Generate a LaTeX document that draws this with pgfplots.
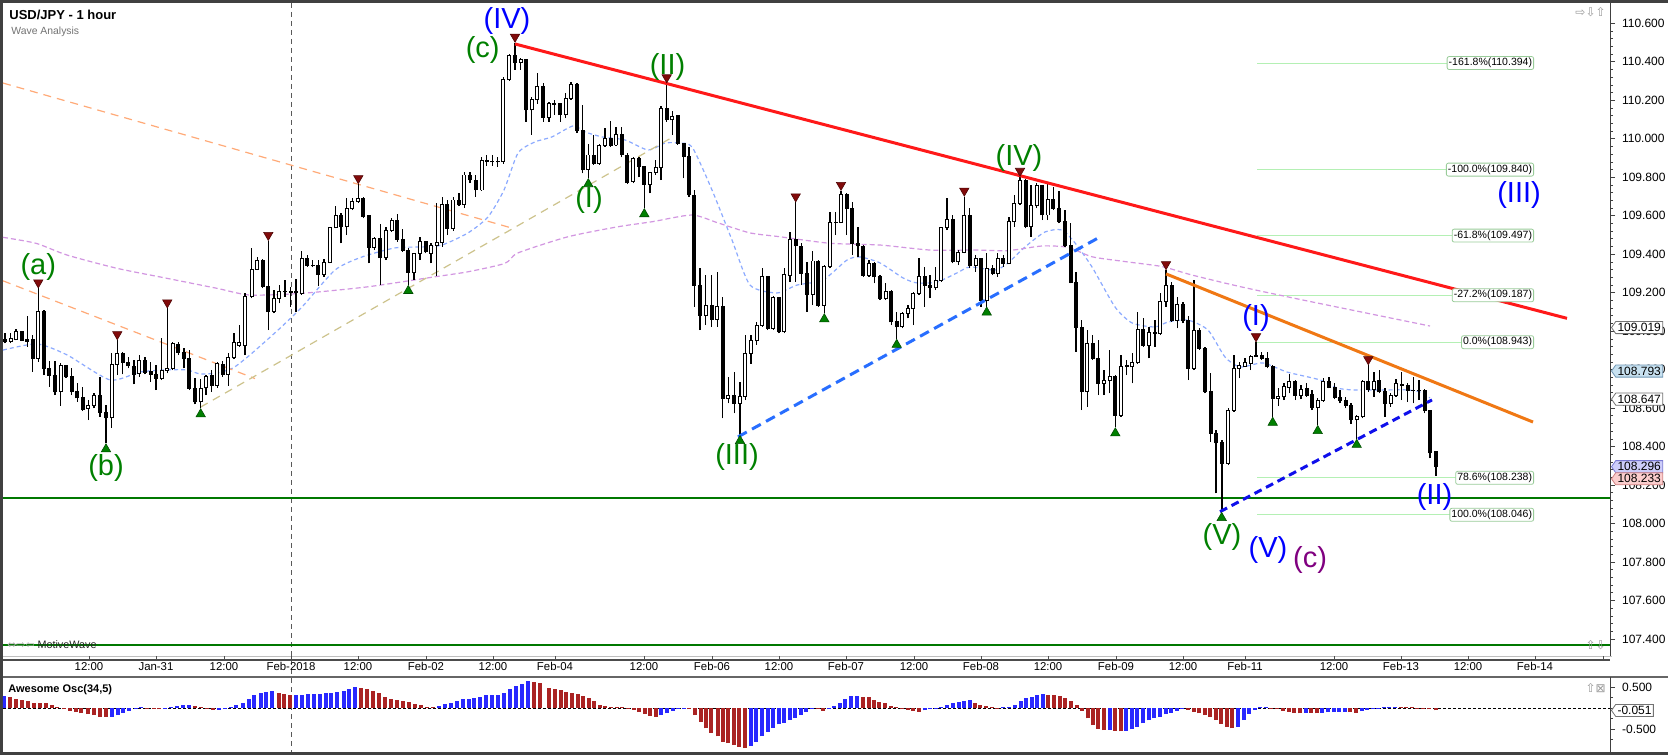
\documentclass[border=0pt]{standalone}
\usepackage{pgfplots}
\pgfplotsset{compat=1.18}
\usepackage{pgfplotstable}
\usepackage{fontspec}
\setmainfont{Liberation Sans}
\newfontfamily\dejavu{DejaVu Sans}
\usetikzlibrary{shapes.symbols}

\newcommand\fs[1]{\fontsize{#1pt}{#1pt}\selectfont}

\definecolor{wgreen}{RGB}{0,128,0}
\definecolor{wblue}{RGB}{0,0,255}
\definecolor{wpurple}{RGB}{128,0,128}
\definecolor{redline}{RGB}{255,25,25}
\definecolor{orline}{RGB}{240,120,20}
\definecolor{bldash}{RGB}{40,110,255}
\definecolor{dbdash}{RGB}{15,15,235}
\definecolor{hgreen}{RGB}{0,120,0}
\definecolor{fibgreen}{RGB}{180,240,180}
\definecolor{maone}{RGB}{140,170,255}
\definecolor{matwo}{RGB}{210,150,225}
\definecolor{salmon}{RGB}{255,170,120}
\definecolor{tanline}{RGB}{205,195,140}
\definecolor{trired}{RGB}{130,10,10}
\definecolor{trigreen}{RGB}{0,128,0}
\definecolor{aored}{RGB}{170,35,35}
\definecolor{aoblue}{RGB}{40,40,255}
\definecolor{frame}{RGB}{64,64,64}

% hourly candles: x position, open, high, low, close
\pgfplotstableread{
x o h l c
5.0 108.959 108.989 108.937 108.949
10.7 108.949 108.989 108.937 108.963
16.0 108.959 109.011 108.952 109.001
21.7 109.001 109.001 108.949 108.954
27.3 108.959 109.079 108.919 108.949
32.7 108.959 108.980 108.789 108.859
38.3 108.859 109.223 108.841 109.101
44.0 109.101 109.110 108.772 108.807
49.3 108.807 108.845 108.711 108.769
55.0 108.769 108.845 108.668 108.685
60.7 108.689 108.833 108.613 108.824
66.0 108.821 108.824 108.758 108.763
71.7 108.763 108.807 108.668 108.685
77.3 108.685 108.729 108.633 108.654
82.7 108.654 108.711 108.585 108.595
88.3 108.599 108.641 108.538 108.616
94.0 108.616 108.677 108.599 108.668
100.0 108.668 108.763 108.555 108.578
106.0 108.578 108.616 108.417 108.550
111.7 108.550 108.885 108.498 108.828
117.3 108.828 108.954 108.772 108.883
122.7 108.883 108.890 108.776 108.838
128.3 108.838 108.867 108.807 108.821
134.0 108.815 108.850 108.724 108.777
139.3 108.781 108.876 108.763 108.850
145.0 108.850 108.867 108.776 108.786
150.7 108.789 108.841 108.737 108.776
156.0 108.776 108.824 108.694 108.755
161.7 108.755 108.963 108.746 108.798
167.3 108.796 109.119 108.781 108.807
172.7 108.807 108.945 108.798 108.937
178.3 108.932 108.945 108.876 108.890
184.0 108.890 108.911 108.807 108.859
189.3 108.859 108.902 108.694 108.703
195.0 108.703 108.755 108.620 108.633
200.7 108.633 108.751 108.599 108.703
206.0 108.706 108.772 108.668 108.763
211.7 108.769 108.798 108.685 108.717
217.3 108.717 108.841 108.706 108.833
222.7 108.828 108.845 108.763 108.776
228.3 108.776 108.885 108.717 108.862
234.0 108.862 108.989 108.855 108.942
239.3 108.928 109.032 108.919 108.942
245.0 108.928 109.197 108.876 109.179
251.7 109.180 109.431 109.171 109.322
257.3 109.322 109.384 109.318 109.370
262.7 109.370 109.377 109.223 109.232
268.3 109.232 109.470 109.006 109.102
274.0 109.102 109.214 109.093 109.171
279.3 109.171 109.240 109.145 109.206
285.0 109.204 109.266 109.180 109.206
290.7 109.206 109.232 109.128 109.200
296.0 109.200 109.270 109.102 109.204
301.7 109.197 109.419 109.188 109.379
307.3 109.379 109.396 109.336 109.344
312.7 109.344 109.370 109.332 109.340
318.3 109.340 109.370 109.235 109.297
324.0 109.297 109.374 109.284 109.356
330.0 109.356 109.543 109.353 109.540
335.7 109.540 109.651 109.535 109.602
341.0 109.602 109.613 109.457 109.544
346.7 109.544 109.691 109.500 109.637
352.3 109.637 109.691 109.630 109.674
358.3 109.674 109.765 109.668 109.689
363.3 109.691 109.696 109.587 109.596
369.0 109.599 109.604 109.353 109.436
374.3 109.436 109.492 109.422 109.483
380.3 109.483 109.556 109.240 109.382
386.0 109.382 109.543 109.370 109.526
391.7 109.526 109.587 109.518 109.575
397.3 109.575 109.609 109.466 109.478
402.7 109.478 109.530 109.414 109.422
408.3 109.422 109.431 109.240 109.304
414.0 109.304 109.408 109.266 109.405
420.0 109.405 109.488 109.370 109.464
425.7 109.464 109.469 109.405 109.412
431.0 109.405 109.457 109.353 109.448
436.7 109.448 109.668 109.287 109.460
442.3 109.460 109.700 109.440 109.661
447.3 109.661 109.680 109.500 109.535
453.3 109.535 109.700 109.520 109.682
459.0 109.682 109.720 109.650 109.661
464.3 109.661 109.830 109.640 109.812
470.0 109.812 109.830 109.770 109.786
475.7 109.786 109.810 109.700 109.734
481.7 109.734 109.905 109.730 109.885
486.7 109.885 109.915 109.860 109.882
492.3 109.882 109.915 109.860 109.880
497.7 109.880 109.905 109.855 109.881
503.3 109.881 110.320 109.870 110.310
509.3 110.310 110.441 110.300 110.431
515.0 110.431 110.500 110.358 110.396
520.7 110.396 110.419 110.358 110.410
526.0 110.410 110.413 110.089 110.150
531.7 110.150 110.219 110.020 110.202
537.3 110.202 110.341 110.183 110.271
543.3 110.271 110.292 110.089 110.112
549.0 110.112 110.193 110.089 110.185
554.3 110.185 110.202 110.124 110.180
560.3 110.185 110.188 110.089 110.124
565.7 110.124 110.237 110.107 110.211
571.0 110.211 110.297 110.202 110.280
577.0 110.280 110.292 110.029 110.043
582.7 110.043 110.176 109.821 109.838
588.3 109.842 109.973 109.795 109.916
593.7 109.916 110.020 109.864 109.873
599.3 109.873 109.973 109.864 109.963
605.0 109.963 110.055 109.959 110.003
610.7 110.003 110.093 109.959 109.963
616.0 109.968 110.063 109.963 110.024
621.7 110.024 110.063 109.904 109.916
627.3 109.916 109.925 109.765 109.772
633.3 109.777 109.907 109.769 109.899
639.0 109.899 109.904 109.800 109.855
644.3 109.855 109.859 109.639 109.765
650.0 109.765 109.824 109.717 109.824
655.7 109.824 109.890 109.812 109.850
661.0 109.850 110.171 109.786 110.159
666.7 110.159 110.289 110.089 110.098
672.3 110.098 110.147 110.020 110.115
677.7 110.119 110.124 109.968 109.977
683.7 109.977 109.977 109.795 109.907
689.0 109.907 109.959 109.699 109.708
694.3 109.708 109.734 109.126 109.240
700.0 109.240 109.327 109.006 109.084
705.7 109.084 109.292 109.032 109.136
711.7 109.136 109.292 109.024 109.062
717.3 109.062 109.310 109.024 109.128
722.7 109.128 109.180 108.547 108.651
728.3 108.651 108.764 108.625 108.668
734.3 108.668 108.790 108.573 108.625
740.0 108.625 108.738 108.460 108.663
745.3 108.663 108.980 108.642 108.885
751.0 108.885 108.980 108.830 108.950
756.7 108.950 109.049 108.930 109.032
762.3 109.032 109.327 109.024 109.283
767.7 109.283 109.287 109.006 109.015
773.3 109.015 109.185 109.006 109.176
779.0 109.176 109.179 108.989 108.998
784.3 108.998 109.327 108.989 109.296
790.0 109.292 109.517 109.257 109.479
795.7 109.479 109.670 109.257 109.443
801.3 109.443 109.457 109.240 109.301
807.0 109.301 109.361 109.101 109.192
812.7 109.192 109.417 109.136 109.365
818.3 109.365 109.370 109.128 109.136
824.3 109.136 109.344 109.093 109.335
830.0 109.335 109.621 109.327 109.566
835.7 109.566 109.621 109.500 109.566
841.0 109.566 109.730 109.561 109.712
846.7 109.712 109.717 109.500 109.639
852.3 109.639 109.673 109.396 109.457
858.0 109.457 109.543 109.387 109.443
863.3 109.443 109.448 109.283 109.292
869.0 109.292 109.370 109.283 109.353
874.3 109.353 109.361 109.249 109.283
880.0 109.283 109.292 109.162 109.171
885.7 109.171 109.249 109.162 109.206
891.3 109.206 109.214 109.032 109.049
896.7 109.049 109.101 108.960 109.023
902.3 109.023 109.101 109.015 109.093
908.0 109.093 109.136 109.067 109.119
913.3 109.119 109.206 109.032 109.197
919.0 109.197 109.379 109.188 109.283
924.7 109.283 109.335 109.128 109.240
930.0 109.240 109.292 109.171 109.226
935.7 109.226 109.335 109.214 109.266
941.3 109.266 109.543 109.257 109.538
947.0 109.538 109.691 109.526 109.583
952.7 109.583 109.604 109.353 109.361
958.3 109.361 109.422 109.344 109.410
964.3 109.410 109.700 109.405 109.604
969.7 109.604 109.639 109.327 109.344
975.7 109.344 109.396 109.309 109.379
981.0 109.379 109.382 109.128 109.162
986.7 109.162 109.405 109.128 109.327
992.7 109.327 109.344 109.292 109.301
997.7 109.301 109.405 109.283 109.379
1003.3 109.379 109.396 109.335 109.353
1009.0 109.353 109.595 109.349 109.569
1014.3 109.569 109.708 109.543 109.665
1020.0 109.665 109.803 109.656 109.783
1025.7 109.783 109.790 109.535 109.543
1031.0 109.543 109.760 109.491 109.651
1036.7 109.651 109.769 109.639 109.755
1042.3 109.755 109.760 109.578 109.604
1047.7 109.604 109.765 109.578 109.686
1053.3 109.686 109.751 109.630 109.639
1059.0 109.639 109.730 109.561 109.569
1065.0 109.569 109.630 109.439 109.448
1070.7 109.448 109.561 109.249 109.252
1076.0 109.252 109.309 108.894 109.020
1081.7 109.020 109.058 108.590 108.686
1087.3 108.686 109.006 108.608 108.937
1092.7 108.937 108.980 108.850 108.859
1098.3 108.859 108.954 108.668 108.729
1104.0 108.729 108.798 108.668 108.746
1109.7 108.746 108.902 108.677 108.764
1115.3 108.764 108.772 108.500 108.564
1121.0 108.564 108.876 108.556 108.819
1126.7 108.819 108.850 108.772 108.822
1132.3 108.815 108.885 108.729 108.836
1137.7 108.836 109.101 108.829 109.010
1143.3 109.010 109.067 108.920 108.928
1149.0 108.928 109.023 108.859 108.993
1155.0 108.993 109.058 108.920 108.989
1160.3 108.989 109.197 108.980 109.154
1166.0 109.154 109.318 109.128 109.240
1171.7 109.240 109.257 109.049 109.058
1177.3 109.058 109.180 109.015 109.141
1183.0 109.141 109.154 109.041 109.055
1188.3 109.055 109.080 108.746 108.807
1194.0 108.807 109.266 108.798 109.006
1199.3 109.006 109.015 108.902 108.911
1205.0 108.911 108.920 108.677 108.686
1210.7 108.686 108.781 108.426 108.469
1216.0 108.469 108.486 108.157 108.420
1222.0 108.420 108.434 108.060 108.313
1228.3 108.313 108.599 108.304 108.590
1234.0 108.590 108.876 108.581 108.807
1239.3 108.807 108.841 108.755 108.824
1245.0 108.819 108.859 108.815 108.836
1250.7 108.833 108.876 108.798 108.871
1256.0 108.871 108.943 108.867 108.876
1261.7 108.876 108.893 108.850 108.859
1267.3 108.859 108.893 108.807 108.815
1272.7 108.815 108.824 108.555 108.651
1278.3 108.651 108.703 108.611 108.663
1284.0 108.659 108.729 108.642 108.711
1289.3 108.708 108.777 108.677 108.737
1295.3 108.737 108.746 108.642 108.668
1301.0 108.668 108.720 108.646 108.698
1306.7 108.703 108.729 108.659 108.668
1312.0 108.672 108.694 108.590 108.604
1317.7 108.604 108.651 108.512 108.639
1323.3 108.639 108.755 108.634 108.737
1329.0 108.737 108.763 108.703 108.708
1334.7 108.708 108.729 108.646 108.656
1340.0 108.656 108.694 108.625 108.642
1345.7 108.642 108.659 108.599 108.616
1351.0 108.616 108.625 108.517 108.542
1356.7 108.542 108.564 108.440 108.555
1362.7 108.555 108.746 108.547 108.737
1368.3 108.737 108.824 108.685 108.698
1374.0 108.698 108.789 108.659 108.737
1379.3 108.746 108.798 108.677 108.685
1385.0 108.685 108.703 108.555 108.625
1390.7 108.625 108.677 108.607 108.668
1396.0 108.668 108.750 108.659 108.729
1401.7 108.724 108.789 108.642 108.720
1407.7 108.720 108.729 108.633 108.691
1413.3 108.694 108.763 108.625 108.694
1419.0 108.694 108.746 108.642 108.691
1424.7 108.694 108.698 108.573 108.587
1430.0 108.587 108.590 108.339 108.368
1436.0 108.374 108.379 108.248 108.296
}\candles

% Awesome Oscillator bars: x, value, blue(1)/red(0)
\pgfplotstableread{
x v b
3.6 0.29 1
10 0.26 0
16 0.22 0
22 0.20 0
28 0.18 0
34 0.13 0
40 0.13 0
46 0.13 0
52 0.07 0
57 0.04 0
64 -0.02 0
70 -0.06 0
76 -0.09 0
81 -0.12 0
88 -0.14 0
94 -0.16 0
100 -0.20 0
106 -0.20 0
112 -0.20 1
118 -0.16 1
123 -0.10 1
129 -0.06 1
136 -0.02 1
141 0.02 1
147 0.01 0
154 -0.01 0
159 -0.02 0
165 0.005 1
171 0.03 1
177 0.06 1
183 0.07 1
189 0.09 1
195 0.06 0
201 0.02 0
207 -0.02 0
213 -0.04 0
219 -0.04 1
225 -0.01 1
231 0.04 1
236 0.07 1
243 0.12 1
249 0.21 1
254 0.31 1
261 0.37 1
266 0.40 1
272 0.42 1
279 0.37 0
284 0.34 0
290 0.31 0
296 0.31 1
302 0.32 1
308 0.33 1
314 0.33 1
320 0.34 1
326 0.36 1
331 0.37 1
337 0.39 1
344 0.41 1
349 0.45 1
355 0.50 1
361 0.48 0
367 0.46 0
373 0.41 0
379 0.36 0
385 0.26 0
391 0.23 0
397 0.20 0
403 0.18 0
409 0.15 0
415 0.10 0
421 0.08 0
427 0.04 0
433 0.02 0
439 0.06 1
445 0.10 1
451 0.13 1
457 0.18 1
463 0.22 1
469 0.23 1
474 0.24 1
480 0.28 1
486 0.31 1
492 0.32 1
498 0.32 1
504 0.36 1
510 0.47 1
516 0.53 1
522 0.58 1
528 0.65 1
534 0.63 0
540 0.60 0
549 0.49 0
555 0.45 0
560.7 0.44 0
566 0.39 0
572 0.36 0
577.5 0.34 0
583 0.29 0
589 0.24 0
594 0.18 0
600 0.08 0
605 0.06 0
611 0.04 0
617 0.03 0
622 0.02 0
628 -0.005 0
633.6 -0.04 0
639 -0.09 0
644.6 -0.13 0
650 -0.18 0
656 -0.20 0
661 -0.17 1
667 -0.12 1
673 -0.06 1
678 -0.02 1
684 -0.01 1
689 -0.02 0
695 -0.16 0
701 -0.32 0
706 -0.48 0
711 -0.58 0
717.5 -0.67 0
723 -0.79 0
728 -0.83 0
734 -0.87 0
739 -0.91 0
745 -0.95 0
751 -0.90 1
756 -0.79 1
762 -0.67 1
767.5 -0.56 1
773 -0.46 1
778.6 -0.38 1
784 -0.34 1
790 -0.28 1
795 -0.22 1
801 -0.16 1
806 -0.08 1
812 -0.02 1
818 -0.02 0
823 -0.06 0
828.6 -0.02 1
834 0.06 1
840 0.13 1
845 0.22 1
851 0.29 1
857 0.30 1
862.5 0.28 0
868.6 0.26 0
874 0.20 0
879 0.16 0
885 0.12 0
891 0.06 0
896 0.02 0
902 -0.02 0
908 -0.04 0
913 -0.06 0
919 -0.08 0
925 -0.05 1
930 -0.02 1
936 0.005 1
941 0.04 1
947 0.08 1
952.5 0.12 1
958.6 0.16 1
964 0.18 1
969.6 0.19 1
975 0.13 0
980 0.09 0
986 0.06 0
992 0.02 0
997 -0.005 0
1003 0.02 1
1009 0.03 1
1015 0.08 1
1021 0.18 1
1026 0.24 1
1032 0.28 1
1037 0.32 1
1043 0.33 1
1048 0.32 0
1054 0.31 0
1060 0.29 0
1065 0.24 0
1071 0.18 0
1077 0.08 0
1082 -0.06 0
1088 -0.24 0
1093 -0.40 0
1098 -0.49 0
1104 -0.52 0
1110 -0.51 1
1115 -0.53 0
1121 -0.55 0
1126 -0.53 1
1132 -0.50 1
1137 -0.44 1
1143 -0.36 1
1149 -0.29 1
1154 -0.24 1
1160 -0.20 1
1166 -0.14 1
1171 -0.10 1
1177 -0.06 1
1182 -0.02 1
1188 -0.04 0
1194 -0.08 0
1199 -0.12 0
1205 -0.16 0
1210 -0.20 0
1216 -0.28 0
1221 -0.37 0
1227 -0.44 0
1232 -0.48 0
1238 -0.44 1
1244 -0.28 1
1249 -0.13 1
1255 -0.04 1
1260 0.02 1
1266 0.025 1
1271 -0.003 0
1277 -0.02 0
1283 -0.06 0
1289 -0.08 0
1294 -0.10 0
1300 -0.12 0
1306 -0.10 1
1311 -0.11 0
1317 -0.12 0
1322 -0.10 1
1328 -0.09 1
1334 -0.09 1
1339 -0.085 1
1345 -0.08 1
1350 -0.09 0
1356 -0.10 0
1362 -0.07 1
1367 -0.04 1
1373 -0.02 1
1378 0.01 1
1384 0.02 1
1389 0.03 1
1395 0.04 1
1401 0.035 0
1406 0.025 0
1412 0.02 0
1417 0.015 0
1423 0.01 0
1429 -0.02 0
1436 -0.05 0
}\osc

\pgfplotsset{
  candle/.style={draw=none, mark=none, forget plot,
    error bars/y dir=plus, error bars/y explicit, error bars/error mark=none},
}

\begin{document}
\begin{tikzpicture}
\useasboundingbox (0,0) rectangle (834pt,377.5pt);
\fill[white] (0,0) rectangle (834pt,377.5pt);
\begin{scope}[shift={(0pt,377.5pt)}, x=0.5pt, y=-0.5pt]
  \fill[frame] (0,0) rectangle (1668,3);
  \fill[frame] (0,0) rectangle (3,755);
  \fill[frame] (0,752) rectangle (1668,755);
  \draw[black!25, line width=0.5pt] (3,656) -- (1612,656);
  \draw[black!60, line width=1pt] (3,677) -- (1668,677);
  \draw[black!65, dash pattern=on 2.5pt off 2pt, line width=0.5pt] (291,3) -- (291,752);
\end{scope}

% ---------------- price panel ----------------
\begin{axis}[
  at={(1.5pt,49.5pt)}, anchor=south west,
  scale only axis, width=803.5pt, height=326.5pt,
  xmin=3, xmax=1610, ymin=107.312, ymax=110.706,
  axis x line=none, axis y line*=right,
  y axis line style={-, draw=black!75, line width=0.5pt},
  ytick={107.4,107.6,107.8,108,108.2,108.4,108.6,108.8,109,109.2,109.4,109.6,109.8,110,110.2,110.4,110.6},
  yticklabels={107.400,107.600,107.800,108.000,108.200,108.400,108.600,108.800,109.000,109.200,109.400,109.600,109.800,110.000,110.200,110.400,110.600},
  minor y tick num=4,
  tick align=outside, major tick length=2.5pt, minor tick length=1.5pt,
  tick style={draw=black!75, line width=0.4pt},
  yticklabel style={font=\fs{6}, anchor=west},
  clip mode=individual,
]
% fibonacci levels
\addplot[fibgreen, line width=0.5pt, forget plot] coordinates {(1257,110.394) (1534,110.394)};
\addplot[fibgreen, line width=0.5pt, forget plot] coordinates {(1257,109.840) (1534,109.840)};
\addplot[fibgreen, line width=0.5pt, forget plot] coordinates {(1257,109.497) (1534,109.497)};
\addplot[fibgreen, line width=0.5pt, forget plot] coordinates {(1257,109.187) (1534,109.187)};
\addplot[fibgreen, line width=0.5pt, forget plot] coordinates {(1257,108.943) (1534,108.943)};
\addplot[fibgreen, line width=0.5pt, forget plot] coordinates {(1257,108.238) (1534,108.238)};
\addplot[fibgreen, line width=0.5pt, forget plot] coordinates {(1257,108.046) (1534,108.046)};

% moving averages
\addplot[maone, line width=0.6pt, dash pattern=on 2pt off 1.5pt, smooth, tension=0.4] coordinates {
(3,108.902) (37,108.934) (67,108.877) (110,108.747) (140,108.788) (167,108.799) (187,108.799)
(200,108.778) (217,108.783) (233,108.809) (250,108.877) (278,109.006) (302,109.126) (335,109.318)
(362,109.386) (395,109.433) (422,109.438) (442,109.448) (468,109.511) (488,109.594) (504,109.734)
(518,109.926) (535,109.984) (552,110.010) (573,110.067) (585,110.036) (602,110.010) (625,109.994)
(648,109.942) (665,109.978) (678,109.978) (692,109.958) (712,109.734) (732,109.474) (750,109.240)
(777,109.199) (797,109.240) (823,109.266) (847,109.370) (860,109.386) (880,109.355) (903,109.277)
(917,109.251) (937,109.256) (957,109.303) (970,109.334) (995,109.318) (1008,109.355) (1025,109.438)
(1045,109.516) (1062,109.526) (1075,109.459) (1092,109.334) (1115,109.126) (1132,109.043) (1155,109.022)
(1168,109.048) (1188,109.058) (1208,109.006) (1225,108.866) (1240,108.814) (1263,108.835) (1287,108.788)
(1320,108.747) (1337,108.705) (1353,108.695) (1387,108.695) (1407,108.695) (1420,108.684) (1430,108.653)};
\addplot[matwo, line width=0.6pt, dash pattern=on 2.5pt off 1.5pt, smooth, tension=0.4] coordinates {
(3,109.488) (36,109.457) (67,109.396) (117,109.327) (167,109.275) (217,109.223) (250,109.188)
(302,109.197) (368,109.231) (435,109.283) (468,109.309) (505,109.353) (518,109.407) (568,109.491)
(618,109.543) (652,109.569) (692,109.604) (718,109.563) (750,109.511) (780,109.491) (830,109.457)
(880,109.448) (930,109.422) (975,109.422) (1008,109.419) (1042,109.443) (1068,109.436) (1092,109.387)
(1125,109.362) (1162,109.336) (1192,109.292) (1240,109.232) (1303,109.162) (1430,109.027)};

% thin dashed channel lines
\addplot[salmon, line width=0.6pt, dash pattern=on 4pt off 3pt] coordinates {(3,110.290) (512,109.536)};
\addplot[salmon, line width=0.6pt, dash pattern=on 4pt off 3pt] coordinates {(3,109.262) (255,108.754)};
\addplot[tanline, line width=0.6pt, dash pattern=on 4pt off 3pt] coordinates {(200.7,108.606) (673,110.010)};

% horizontal support lines
\addplot[hgreen, line width=1.4pt] coordinates {(3,108.133) (1610,108.133)};
\addplot[hgreen, line width=1.4pt] coordinates {(3,107.369) (1610,107.369)};

% candles: wicks, bodies, hollow up-bodies
\addplot[candle, error bars/error bar style={draw=black, line width=0.55pt}]
  table[x=x, y=l, y error expr=\thisrow{h}-\thisrow{l}] {\candles};
\addplot[candle, error bars/error bar style={draw=black, line width=2pt}]
  table[x=x, y expr={min(\thisrow{o},\thisrow{c})-0.0025}, y error expr={abs(\thisrow{c}-\thisrow{o})+0.005}] {\candles};
\addplot[candle, restrict expr to domain={\thisrow{c}-\thisrow{o}}{0.006:5}, error bars/error bar style={draw=white, line width=1pt}]
  table[x=x, y expr=\thisrow{o}+0.0025, y error expr=\thisrow{c}-\thisrow{o}-0.005] {\candles};

% trend lines
\addplot[redline, line width=1.5pt] coordinates {(515,110.493) (1567,109.067)};
\addplot[orline, line width=1.5pt] coordinates {(1166,109.298) (1533,108.528)};
\addplot[bldash, line width=1.5pt, dash pattern=on 5pt off 3pt] coordinates {(738,108.451) (1100,109.490)};
\addplot[dbdash, line width=1.5pt, dash pattern=on 4pt off 2.5pt] coordinates {(1220,108.062) (1432,108.643)};

% swing markers
\addplot[only marks, mark=triangle*, mark size=2.7pt,
  mark options={rotate=180, fill=trired, draw=trired!60!black, line width=0.3pt}] coordinates {
(38.3,109.253) (117.3,108.984) (167.3,109.149) (268.3,109.500) (358.3,109.795) (515.0,110.530)
(666.7,110.319) (795.7,109.700) (841.0,109.760) (964.3,109.730) (1020.0,109.833) (1166.0,109.348)
(1256.0,108.973) (1368.3,108.854)};
\addplot[only marks, mark=triangle*, mark size=2.7pt,
  mark options={fill=trigreen, draw=trigreen!60!black, line width=0.3pt}] coordinates {
(106.0,108.387) (200.7,108.569) (408.3,109.210) (588.3,109.765) (644.3,109.609) (740.0,108.430)
(824.3,109.063) (896.7,108.930) (986.7,109.098) (1115.3,108.470) (1221.7,108.030) (1272.7,108.525)
(1317.7,108.482) (1356.7,108.410)};

% fibonacci labels
\tikzset{fib/.style={draw=fibgreen!85!black, fill=white, rounded corners=1pt, inner sep=0.8pt, font=\fs{5.25}, anchor=east}}
\node[fib] at (axis cs:1534,110.394) {-161.8\%(110.394)};
\node[fib] at (axis cs:1534,109.840) {-100.0\%(109.840)};
\node[fib] at (axis cs:1534,109.497) {-61.8\%(109.497)};
\node[fib] at (axis cs:1534,109.187) {-27.2\%(109.187)};
\node[fib] at (axis cs:1534,108.943) {0.0\%(108.943)};
\node[fib] at (axis cs:1534,108.238) {78.6\%(108.238)};
\node[fib] at (axis cs:1534,108.046) {100.0\%(108.046)};

% wave labels
\tikzset{wave/.style={font=\fs{14.5}, inner sep=0pt}}
\node[wave, text=wgreen] at (axis cs:38.3,109.336) {(a)};
\node[wave, text=wgreen] at (axis cs:106,108.289) {(b)};
\node[wave, text=wgreen] at (axis cs:482.7,110.462) {(c)};
\node[wave, text=wblue] at (axis cs:507,110.612) {(IV)};
\node[wave, text=wgreen] at (axis cs:667.5,110.375) {(II)};
\node[wave, text=wgreen] at (axis cs:589,109.682) {(I)};
\node[wave, text=wgreen] at (axis cs:737,108.344) {(III)};
\node[wave, text=wgreen] at (axis cs:1019,109.900) {(IV)};
\node[wave, text=wblue] at (axis cs:1256,109.069) {(I)};
\node[wave, text=wblue] at (axis cs:1519,109.708) {(III)};
\node[wave, text=wblue] at (axis cs:1434.5,108.136) {(II)};
\node[wave, text=wgreen] at (axis cs:1222,107.932) {(V)};
\node[wave, text=wblue] at (axis cs:1268,107.864) {(V)};
\node[wave, text=wpurple] at (axis cs:1310,107.811) {(c)};

% last-value flags on the price scale
\tikzset{flag/.style={signal, signal to=west, signal pointer angle=110, draw=black!55, line width=0.4pt,
  inner sep=0.9pt, font=\fs{6}, anchor=west}}
\node[flag, fill=white] at (axis cs:1611,109.019) {109.019};
\node[flag, fill={rgb,255:red,200;green,225;blue,240}, draw={rgb,255:red,110;green,150;blue,180}] at (axis cs:1611,108.793) {108.793};
\node[flag, fill=white] at (axis cs:1611,108.647) {108.647};
\node[flag, fill={rgb,255:red,205;green,205;blue,250}, draw={rgb,255:red,120;green,120;blue,210}] at (axis cs:1611,108.296) {108.296};
\node[flag, fill={rgb,255:red,250;green,205;blue,205}, draw={rgb,255:red,210;green,130;blue,130}] at (axis cs:1611,108.233) {108.233};
\end{axis}

% ---------------- time scale ----------------
\begin{axis}[
  at={(1.5pt,47.5pt)}, anchor=south west,
  scale only axis, width=803.5pt, height=2pt,
  xmin=3, xmax=1610, ymin=0, ymax=1,
  axis y line=none, axis x line*=bottom,
  x axis line style={-, draw=black!70, line width=0.8pt},
  xtick={89,156,224,291,358,426,493,555,644,712,779,846,914,981,1048,1116,1183,1245,1334,1401,1468,1535,1603},
  xticklabels={12:00,Jan-31,12:00,Feb-2018,12:00,Feb-02,12:00,Feb-04,12:00,Feb-06,12:00,Feb-07,12:00,Feb-08,12:00,Feb-09,12:00,Feb-11,12:00,Feb-13,12:00,Feb-14,{}},
  tick align=inside, major tick length=2pt,
  tick style={draw=black!70, line width=0.5pt},
  xticklabel style={font=\fs{5.7}, inner sep=1pt},
]
\addplot[draw=none] coordinates {(3,0.5)};
\end{axis}

% ---------------- Awesome oscillator ----------------
\begin{axis}[
  at={(1.5pt,1.5pt)}, anchor=south west,
  scale only axis, width=803.5pt, height=37.5pt,
  xmin=3, xmax=1610, ymin=-1.04, ymax=0.745,
  axis x line=none, axis y line*=right,
  y axis line style={-, draw=black!75, line width=0.5pt},
  ytick={-0.5,0.5}, yticklabels={-0.500,0.500},
  minor ytick={-0.75,-0.25,0,0.25},
  tick align=outside, major tick length=2.5pt, minor tick length=1.5pt,
  tick style={draw=black!75, line width=0.4pt},
  yticklabel style={font=\fs{6}, anchor=west},
  clip mode=individual,
]
\addplot[black, line width=0.4pt, dash pattern=on 1.5pt off 1pt] coordinates {(3,0) (1610,0)};
\addplot[candle, restrict expr to domain={\thisrow{b}}{-0.5:0.5}, error bars/error bar style={draw=aored, line width=2pt}]
  table[x=x, y expr={min(0,\thisrow{v})}, y error expr={abs(\thisrow{v})}] {\osc};
\addplot[candle, restrict expr to domain={\thisrow{b}}{0.5:1.5}, error bars/error bar style={draw=aoblue, line width=2pt}]
  table[x=x, y expr={min(0,\thisrow{v})}, y error expr={abs(\thisrow{v})}] {\osc};
\node[signal, signal to=west, signal pointer angle=110, draw=black!55, fill=white, line width=0.4pt,
  inner sep=0.9pt, font=\fs{6}, anchor=west] at (axis cs:1611,-0.051) {-0.051};
\end{axis}

% ---------------- texts and small icons ----------------
\begin{scope}[shift={(0pt,377.5pt)}, x=0.5pt, y=-0.5pt]
  \node[anchor=west, inner sep=0pt, font=\fs{6.5}\bfseries] at (9,15) {USD/JPY - 1 hour};
  \node[anchor=west, inner sep=0pt, font=\fs{5.2}, text=black!55] at (11,32) {Wave Analysis};
  \node[anchor=west, inner sep=0pt, font=\fs{5.5}\bfseries] at (8,690) {Awesome Osc(34,5)};
  \node[anchor=west, inner sep=0pt, font=\fs{5.4}, text=black!85] at (7,645) {{\dejavu\color{black!35}⇔⇨⇦} MotiveWave};
  \node[anchor=east, inner sep=0pt, font=\fs{6}\dejavu, text=black!40] at (1606,12) {⇨⇩⇧};
  \node[anchor=east, inner sep=0pt, font=\fs{6}\dejavu, text=black!40] at (1606,645) {⇧⇩};
  \node[anchor=east, inner sep=0pt, font=\fs{6}\dejavu, text=black!40] at (1606,688) {⇧⊠};
\end{scope}
\end{tikzpicture}
\end{document}
